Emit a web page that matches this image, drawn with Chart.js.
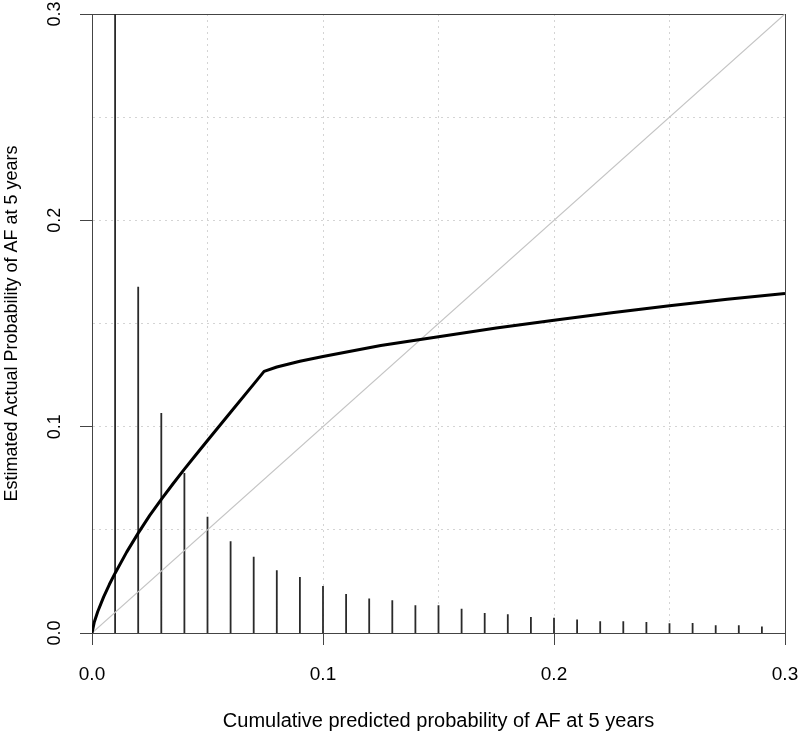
<!DOCTYPE html>
<html>
<head>
<meta charset="utf-8">
<script src="https://cdn.jsdelivr.net/npm/chart.js@4"></script>
<style>
  html, body { margin: 0; padding: 0; background: #fff; }
  #wrap { width: 800px; height: 731px; }
</style>
</head>
<body>
<div id="wrap"><canvas id="cal" width="800" height="731"></canvas></div>
<script>
// Calibration plot: predicted vs estimated actual probability of AF at 5 years

const AXIS_MIN = 0;
const AXIS_MAX = 0.3;
const GRID_STEP = 0.05;
const tickLabels = ['0.0', '0.1', '0.2', '0.3'];

// Distribution of predictions (spikes along the bottom)
const spikeX = [0.01, 0.02, 0.03, 0.04, 0.05, 0.06, 0.07, 0.08, 0.09, 0.10,
                0.11, 0.12, 0.13, 0.14, 0.15, 0.16, 0.17, 0.18, 0.19, 0.20,
                0.21, 0.22, 0.23, 0.24, 0.25, 0.26, 0.27, 0.28, 0.29];
const spikeY = [0.45, 0.1678, 0.1066, 0.0775, 0.0563, 0.0445, 0.0370, 0.0304, 0.0271, 0.0228,
                0.0189, 0.0167, 0.0159, 0.0134, 0.0134, 0.0117, 0.0097, 0.0091, 0.0078, 0.0074,
                0.0065, 0.0057, 0.0057, 0.0053, 0.0047, 0.0049, 0.0037, 0.0037, 0.0032];

// Calibration curve
const curveX = [0, 0.001, 0.0025, 0.005, 0.0075, 0.01, 0.015, 0.02, 0.025, 0.03,
                0.035, 0.04, 0.045, 0.05, 0.06, 0.07, 0.0745, 0.08, 0.09, 0.10,
                0.125, 0.15, 0.175, 0.20, 0.225, 0.25, 0.275, 0.30];
const curveY = [0, 0.0053, 0.0104, 0.0174, 0.0235, 0.0290, 0.0392, 0.0484, 0.0570, 0.0648,
                0.0722, 0.0794, 0.0864, 0.0933, 0.1070, 0.1206, 0.1268, 0.1289, 0.1317, 0.1340,
                0.1393, 0.1436, 0.1478, 0.1516, 0.1552, 0.1586, 0.1617, 0.1646];

// Ideal calibration line
const idealX = [0, 0.3];
const idealY = [0, 0.3];

const FAMILY = "'Liberation Sans', Arial, Helvetica, sans-serif";
const FONT_X = { family: FAMILY, size: 19, lineHeight: 1 };
const FONT_XT = { family: FAMILY, size: 20, lineHeight: 1 };
const FONT_Y = { family: FAMILY, size: 18, lineHeight: 1.2 };
const FRAME = '#444';

function labelFor(v) {
  const hit = tickLabels.find(t => Math.abs(parseFloat(t) - v) < 1e-6);
  return hit || '';
}
function isLabelled(v) { return labelFor(v) !== ''; }

// spikes as vertical segments separated by gaps
const spikeData = [];
spikeX.forEach((x, i) => {
  spikeData.push({ x: x, y: 0 });
  spikeData.push({ x: x, y: spikeY[i] });
  spikeData.push({ x: x, y: null });
});

const gridOpts = {
  color: (c) => {
    const v = c.tick ? c.tick.value : 0;
    return (v <= AXIS_MIN + 1e-9 || v >= AXIS_MAX - 1e-9) ? 'transparent' : '#d4d4d4';
  },
  lineWidth: 1,
  drawTicks: true,
  tickLength: 12,
  tickWidth: 1,
  tickColor: (c) => (c.tick && isLabelled(c.tick.value)) ? FRAME : 'transparent',
};

function noPad(s) {
  s.paddingTop = 0; s.paddingBottom = 0; s.paddingLeft = 0; s.paddingRight = 0;
}

new Chart(document.getElementById('cal'), {
  type: 'line',
  data: {
    datasets: [
      {
        label: 'Spikes',
        data: spikeData,
        borderColor: '#2a2a2a',
        borderWidth: 1.8,
        pointRadius: 0,
        spanGaps: false,
        tension: 0,
        order: 3,
      },
      {
        label: 'Ideal',
        data: idealX.map((x, i) => ({ x: x, y: idealY[i] })),
        borderColor: '#c4c4c4',
        borderWidth: 1.2,
        pointRadius: 0,
        order: 2,
      },
      {
        label: 'Calibration',
        data: curveX.map((x, i) => ({ x: x, y: curveY[i] })),
        borderColor: '#000',
        borderWidth: 3,
        pointRadius: 0,
        tension: 0,
        borderJoinStyle: 'round',
        order: 1,
      },
    ],
  },
  options: {
    responsive: false,
    animation: false,
    layout: { padding: { top: 14, right: 15, left: 0, bottom: 0 } },
    plugins: { legend: { display: false }, tooltip: { enabled: false } },
    scales: {
      x: {
        type: 'linear',
        position: 'bottom',
        min: AXIS_MIN, max: AXIS_MAX,
        offset: false,
        ticks: {
          stepSize: GRID_STEP, autoSkip: false, maxRotation: 0,
          padding: 20, color: '#000', font: FONT_X,
          callback: (v) => labelFor(v),
        },
        grid: { ...gridOpts, offset: false },
        border: { display: true, color: FRAME, width: 1, dash: [2, 4] },
        title: {
          display: true,
          text: 'Cumulative predicted probability of AF at 5 years',
          color: '#000', font: FONT_XT, padding: { top: 0, bottom: 0 },
        },
        afterFit: (s) => { s.height = 98; noPad(s); },
      },
      y: {
        type: 'linear',
        position: 'left',
        min: AXIS_MIN, max: AXIS_MAX,
        ticks: {
          stepSize: GRID_STEP, autoSkip: false,
          minRotation: 90, maxRotation: 90, crossAlign: 'center',
          padding: 12, color: '#000', font: FONT_Y,
          callback: (v) => labelFor(v),
        },
        grid: gridOpts,
        border: { display: true, color: FRAME, width: 1, dash: [2, 4] },
        title: {
          display: true,
          text: 'Estimated Actual Probability of AF at 5 years',
          color: '#000', font: FONT_Y, padding: { top: 1, bottom: 0 },
        },
        afterFit: (s) => { s.width = 92; noPad(s); },
      },
      x2: {
        type: 'linear', position: 'top', min: AXIS_MIN, max: AXIS_MAX,
        grid: { display: false, drawTicks: false },
        ticks: { display: false },
        border: { display: true, color: FRAME, width: 1 },
        afterFit: (s) => { s.height = 0; noPad(s); },
      },
      y2: {
        type: 'linear', position: 'right', min: AXIS_MIN, max: AXIS_MAX,
        grid: { display: false, drawTicks: false },
        ticks: { display: false },
        border: { display: true, color: FRAME, width: 1 },
        afterFit: (s) => { s.width = 0; noPad(s); },
      },
    },
  },
});
</script>
</body>
</html>
